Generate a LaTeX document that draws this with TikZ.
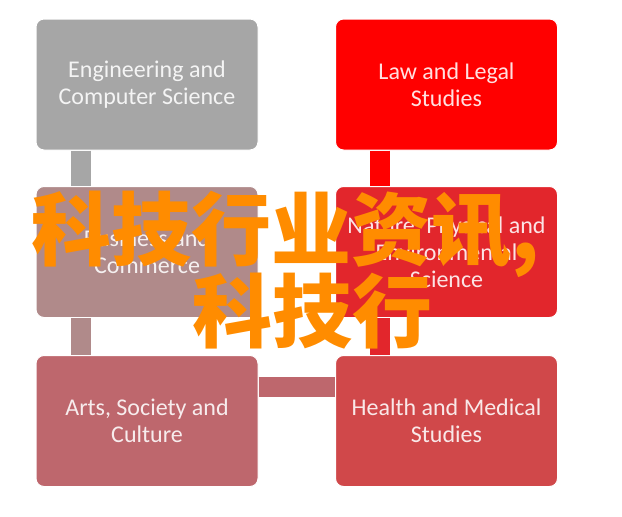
\documentclass[tikz,border=0pt]{standalone}
\usepackage{fontspec}
\setmainfont{Carlito}
\newfontfamily\cjk{Noto Sans CJK SC}
\definecolor{cGray}{HTML}{A6A6A6}
\definecolor{cRed}{HTML}{FF0000}
\definecolor{cMauve}{HTML}{B08A8A}
\definecolor{cRed2}{HTML}{E2262C}
\definecolor{cRose}{HTML}{BE676D}
\definecolor{cBrick}{HTML}{D0484A}
\definecolor{cOrange}{HTML}{FF8C00}
\begin{document}
\begin{tikzpicture}[x=1pt,y=-1pt,
  box/.style={rounded corners=8pt, minimum width=222pt, minimum height=131pt,
    align=center, text=white, text opacity=0.88, inner sep=0pt,
    font=\fontsize{24}{27}\selectfont, draw=white, line width=1pt},
  bar/.style={line width=20pt},
  overlay text/.style={text=cOrange, inner sep=0pt, font=\cjk\bfseries\fontsize{80}{80}\selectfont}]
\useasboundingbox (0,0) rectangle (622,517);
\node[box, fill=cGray]  (tl) at (147,84.5)  {Engineering and\\Computer Science};
\node[box, fill=cRed]   (tr) at (446.5,84.5) {Law and Legal\\Studies};
\node[box, fill=cMauve] (ml) at (147,252)   {Business and\\Commerce};
\node[box, fill=cRed2]  (mr) at (446.5,252) {Nature, Physical and\\Environmental\\Science};
\node[box, fill=cRose]  (bl) at (147,421)   {Arts, Society and\\Culture};
\node[box, fill=cBrick] (br) at (446.5,421) {Health and Medical\\Studies};
\draw[bar, cGray]  ([xshift=-66pt]tl.south) -- ([xshift=-66pt]ml.north);
\draw[bar, cRed]   ([xshift=-66.5pt]tr.south) -- ([xshift=-66.5pt]mr.north);
\draw[bar, cMauve] ([xshift=-66pt]ml.south) -- ([xshift=-66pt]bl.north);
\draw[bar, cRed2]  ([xshift=-66.5pt]mr.south) -- ([xshift=-66.5pt]br.north);
\draw[bar, cRose]  ([yshift=34pt]bl.east) -- ([yshift=34pt]br.west);
\node[overlay text, anchor=base west] (o1) at (31,259) {科技行业资讯,};
\node[overlay text, anchor=base west] (o2) at (192,341) {科技行};
\end{tikzpicture}
\end{document}
